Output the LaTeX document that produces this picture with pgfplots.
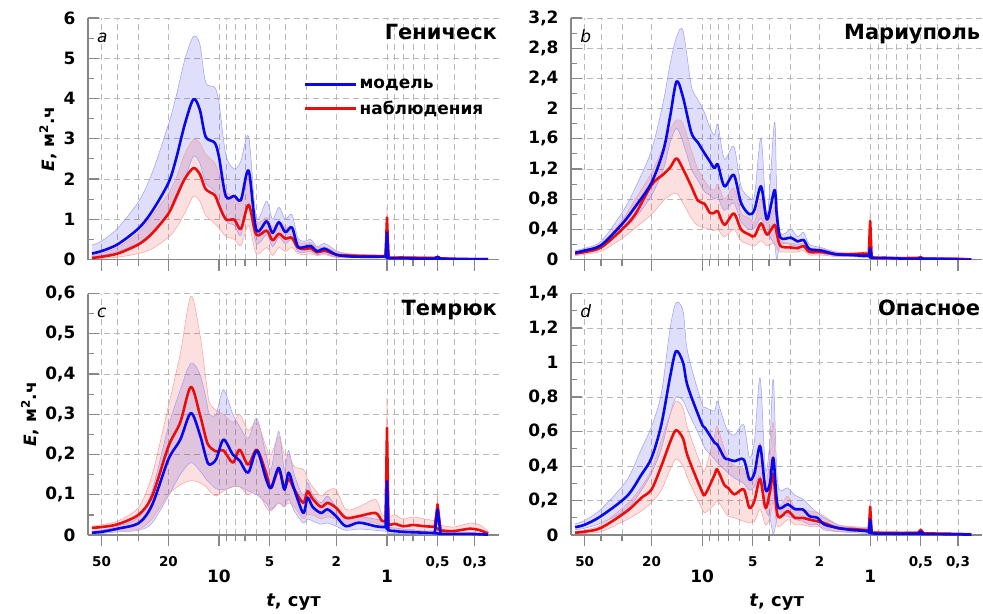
\documentclass[border=0pt]{standalone}
\usepackage{fontspec}
\setmainfont{DejaVu Sans}
\usepackage{pgfplots}
\pgfplotsset{compat=1.18}
\usepackage{pgfplotstable}
\usepgfplotslibrary{fillbetween}

\definecolor{mblue}{RGB}{8,8,235}
\definecolor{mred}{RGB}{235,12,12}
\definecolor{axgray}{RGB}{135,135,135}
\definecolor{gridgray}{RGB}{185,185,185}
\newcommand{\fs}[1]{\fontsize{#1pt}{#1pt}\selectfont}

% columns: t (days), model band low/mean/high, observation band low/mean/high
\pgfplotstableread{
t     bl   bm   bu   rl   rm   ru
57    0.08 0.15 0.36 0.02 0.04 0.10
50    0.10 0.21 0.46 0.03 0.07 0.15
40    0.20 0.38 0.78 0.06 0.15 0.30
30    0.42 0.78 1.45 0.15 0.38 0.68
25    0.68 1.20 2.15 0.27 0.65 1.08
20    1.15 1.90 3.35 0.55 1.14 1.65
18    1.45 2.50 4.05 0.78 1.55 2.02
16    2.00 3.35 4.95 1.15 2.00 2.62
14.2  2.56 3.98 5.54 1.57 2.27 2.98
13    2.40 3.72 5.35 1.45 2.12 2.90
12    1.90 3.05 4.40 1.10 1.75 2.62
10.6  1.70 2.90 4.28 0.90 1.60 2.40
10    1.45 2.55 3.90 0.78 1.35 2.15
9.1   0.95 1.57 2.60 0.58 1.00 1.70
8.1   0.85 1.58 2.25 0.50 0.99 1.55
7.4   0.60 1.48 2.45 0.35 0.76 1.40
6.66  1.35 2.21 3.05 0.85 1.36 2.05
6.0   0.40 0.74 1.05 0.15 0.62 0.95
5.2   0.62 0.95 1.45 0.30 0.72 1.05
4.8   0.32 0.66 1.00 0.10 0.48 0.80
4.4   0.55 0.93 1.30 0.30 0.64 0.95
4.03  0.40 0.68 1.00 0.20 0.52 0.80
3.68  0.50 0.80 1.12 0.30 0.54 0.80
3.4   0.20 0.33 0.55 0.15 0.30 0.45
3.1   0.18 0.31 0.45 0.12 0.26 0.40
2.85  0.20 0.34 0.50 0.14 0.28 0.42
2.6   0.12 0.21 0.32 0.10 0.18 0.30
2.35  0.15 0.27 0.40 0.12 0.22 0.32
2.0   0.06 0.12 0.22 0.05 0.12 0.20
1.7   0.04 0.08 0.13 0.05 0.10 0.15
1.4   0.04 0.07 0.11 0.05 0.09 0.13
1.15  0.04 0.07 0.10 0.04 0.08 0.12
1.02  0.04 0.07 0.10 0.04 0.08 0.11
0.98  0.01 0.03 0.05 0.02 0.05 0.08
0.8   0.01 0.03 0.05 0.02 0.05 0.08
0.6   0.01 0.02 0.04 0.02 0.04 0.07
0.52  0.01 0.02 0.04 0.02 0.04 0.06
0.48  0.00 0.02 0.03 0.01 0.03 0.05
0.4   0.00 0.01 0.02 0.01 0.02 0.03
0.3   0.00 0.01 0.02 0.00 0.01 0.02
0.25  0.00 0.01 0.01 0.00 0.01 0.01
}\tabA
\pgfplotstableread{
t     bm   rm   bu   ru
1.02  0.07 0.08 0.10 0.11
1.0   0.67 1.04 0.78 1.29
0.98  0.03 0.05 0.05 0.08
0.52  0.02 0.04 0.04 0.06
0.5   0.07 0.06 0.09 0.08
0.48  0.02 0.03 0.03 0.05
}\spkA

\pgfplotstableread{
t     bl   bm   bu   rl   rm   ru
57    0.07 0.09 0.12 0.05 0.08 0.10
50    0.09 0.12 0.15 0.07 0.10 0.13
40    0.15 0.19 0.24 0.11 0.16 0.20
30    0.38 0.47 0.62 0.28 0.40 0.52
25    0.55 0.70 0.95 0.42 0.60 0.80
20    0.85 1.02 1.45 0.60 0.99 1.15
17    1.20 1.45 2.10 0.78 1.13 1.50
15.5  1.55 1.90 2.60 0.85 1.22 1.72
14.2  1.74 2.36 2.95 0.88 1.34 1.85
13    1.55 2.15 3.03 0.75 1.20 1.80
11.6  1.20 1.68 2.30 0.55 0.97 1.45
10.6  1.05 1.55 2.12 0.45 0.78 1.20
9.7   0.90 1.41 1.95 0.42 0.74 1.05
9.0   0.85 1.30 1.75 0.40 0.62 0.95
8.45  0.80 1.21 1.65 0.38 0.62 0.92
8.07  0.82 1.26 1.79 0.40 0.64 1.00
7.37  0.65 0.97 1.33 0.30 0.46 0.80
6.48  0.75 1.12 1.50 0.40 0.61 0.95
5.87  0.50 0.75 0.97 0.25 0.40 0.62
5.23  0.40 0.60 0.82 0.20 0.33 0.55
4.88  0.42 0.66 0.85 0.18 0.31 0.50
4.46  0.55 0.97 1.61 0.25 0.48 0.80
4.11  0.35 0.53 0.58 0.18 0.33 0.48
3.71  0.20 0.92 1.82 0.22 0.46 0.70
3.6   0.00 0.60 0.90 0.15 0.35 0.50
3.42  0.20 0.29 0.35 0.10 0.18 0.25
2.96  0.20 0.29 0.40 0.10 0.16 0.22
2.7   0.17 0.24 0.30 0.10 0.15 0.20
2.49  0.18 0.26 0.36 0.12 0.18 0.22
2.3   0.10 0.14 0.20 0.06 0.10 0.15
1.96  0.08 0.12 0.16 0.06 0.10 0.14
1.6   0.05 0.07 0.10 0.04 0.07 0.10
1.3   0.04 0.06 0.08 0.04 0.07 0.10
1.1   0.03 0.05 0.07 0.05 0.08 0.10
1.02  0.03 0.05 0.07 0.04 0.07 0.10
0.98  0.00 0.02 0.03 0.01 0.03 0.05
0.8   0.00 0.02 0.03 0.01 0.02 0.04
0.6   0.00 0.01 0.02 0.01 0.02 0.03
0.52  0.00 0.01 0.02 0.01 0.02 0.03
0.48  0.00 0.01 0.02 0.00 0.01 0.02
0.4   0.00 0.01 0.01 0.00 0.01 0.02
0.3   0.00 0.00 0.01 0.00 0.01 0.01
0.25  0.00 0.00 0.01 0.00 0.00 0.01
}\tabB
\pgfplotstableread{
t     bm   rm   bu   ru
1.02  0.05 0.07 0.07 0.10
1.0   0.15 0.51 0.20 0.65
0.98  0.02 0.03 0.03 0.05
0.52  0.01 0.02 0.02 0.03
0.5   0.02 0.03 0.03 0.04
0.48  0.01 0.01 0.02 0.02
}\spkB

\pgfplotstableread{
t     bl    bm    bu    rl    rm    ru
57    0.003 0.006 0.010 0.008 0.018 0.022
50    0.004 0.008 0.012 0.010 0.020 0.026
40    0.008 0.016 0.022 0.012 0.027 0.035
30    0.012 0.030 0.045 0.015 0.051 0.070
25    0.030 0.075 0.110 0.040 0.097 0.150
20    0.097 0.188 0.270 0.100 0.220 0.320
17    0.150 0.237 0.360 0.125 0.280 0.450
14.7  0.180 0.303 0.427 0.135 0.368 0.593
13    0.160 0.250 0.400 0.130 0.300 0.500
11.9  0.138 0.190 0.336 0.120 0.237 0.380
11.4  0.130 0.175 0.300 0.110 0.220 0.330
10.4  0.115 0.188 0.300 0.097 0.208 0.310
9.4   0.113 0.237 0.361 0.110 0.210 0.300
8.27  0.120 0.200 0.300 0.120 0.180 0.280
7.54  0.120 0.185 0.270 0.120 0.212 0.300
6.7   0.110 0.155 0.240 0.100 0.175 0.260
5.95  0.100 0.210 0.290 0.110 0.212 0.280
5.25  0.080 0.140 0.200 0.070 0.155 0.220
4.9   0.064 0.117 0.163 0.060 0.117 0.200
4.41  0.080 0.167 0.258 0.080 0.163 0.245
4.08  0.070 0.113 0.163 0.070 0.117 0.200
3.85  0.090 0.155 0.210 0.080 0.140 0.200
3.56  0.060 0.113 0.150 0.070 0.113 0.170
3.15  0.030 0.055 0.097 0.040 0.080 0.163
2.97  0.040 0.093 0.130 0.050 0.109 0.140
2.77  0.035 0.070 0.100 0.050 0.090 0.120
2.47  0.027 0.055 0.080 0.040 0.070 0.097
2.26  0.030 0.064 0.097 0.045 0.080 0.110
2.01  0.022 0.047 0.070 0.040 0.068 0.113
1.76  0.012 0.022 0.040 0.025 0.043 0.064
1.47  0.015 0.031 0.045 0.030 0.047 0.070
1.17  0.012 0.022 0.040 0.030 0.055 0.088
1.07  0.010 0.020 0.035 0.020 0.035 0.050
1.02  0.010 0.020 0.035 0.020 0.035 0.050
0.98  0.004 0.012 0.020 0.010 0.025 0.045
0.9   0.004 0.010 0.018 0.012 0.028 0.050
0.8   0.003 0.008 0.015 0.010 0.022 0.040
0.7   0.003 0.007 0.013 0.012 0.025 0.045
0.6   0.002 0.006 0.010 0.010 0.022 0.040
0.52  0.002 0.005 0.010 0.010 0.020 0.035
0.48  0.001 0.003 0.006 0.005 0.012 0.025
0.4   0.001 0.003 0.005 0.004 0.010 0.020
0.32  0.001 0.003 0.005 0.006 0.016 0.030
0.28  0.001 0.002 0.004 0.005 0.012 0.025
0.25  0.000 0.001 0.002 0.002 0.004 0.010
}\tabC
\pgfplotstableread{
t     bm    rm    bu    ru
1.02  0.020 0.035 0.035 0.050
1.0   0.134 0.266 0.160 0.340
0.98  0.012 0.025 0.020 0.045
0.52  0.005 0.020 0.010 0.035
0.5   0.064 0.076 0.070 0.097
0.48  0.003 0.012 0.006 0.025
}\spkC

\pgfplotstableread{
t     bl    bm    bu    rl    rm    ru
57    0.030 0.046 0.065 0.006 0.014 0.022
50    0.040 0.060 0.085 0.010 0.020 0.030
40    0.070 0.110 0.150 0.020 0.042 0.060
28    0.150 0.226 0.320 0.090 0.139 0.180
23    0.260 0.350 0.500 0.140 0.216 0.280
20    0.360 0.448 0.630 0.190 0.265 0.380
17.5  0.500 0.640 0.820 0.260 0.400 0.550
15.5  0.700 0.920 1.200 0.380 0.540 0.700
14.3  0.800 1.066 1.346 0.440 0.608 0.776
13    0.780 1.000 1.300 0.400 0.560 0.740
12.2  0.720 0.863 1.060 0.330 0.458 0.620
10.1  0.550 0.650 0.770 0.160 0.260 0.400
9.6   0.500 0.620 0.740 0.130 0.236 0.380
8.43  0.440 0.535 0.720 0.180 0.350 0.580
8.13  0.420 0.525 0.776 0.200 0.380 0.630
7.37  0.380 0.448 0.650 0.140 0.290 0.500
7.0   0.360 0.440 0.600 0.110 0.274 0.450
6.42  0.330 0.429 0.580 0.100 0.236 0.400
5.66  0.300 0.438 0.640 0.080 0.265 0.380
5.23  0.260 0.322 0.450 0.070 0.158 0.300
4.88  0.280 0.360 0.550 0.080 0.200 0.380
4.52  0.340 0.516 0.911 0.150 0.326 0.535
4.2   0.149 0.265 0.380 0.060 0.158 0.300
3.95  0.100 0.300 0.550 0.100 0.250 0.450
3.77  0.004 0.448 0.902 0.190 0.351 0.650
3.55  0.100 0.168 0.300 0.050 0.110 0.187
3.1   0.110 0.178 0.274 0.090 0.139 0.226
2.8   0.090 0.150 0.230 0.060 0.100 0.160
2.52  0.080 0.149 0.210 0.060 0.100 0.150
2.3   0.060 0.110 0.170 0.050 0.090 0.140
2.06  0.060 0.100 0.130 0.050 0.080 0.130
1.88  0.030 0.062 0.100 0.040 0.070 0.110
1.56  0.020 0.042 0.060 0.020 0.040 0.060
1.3   0.015 0.030 0.045 0.020 0.035 0.050
1.1   0.010 0.025 0.040 0.020 0.030 0.045
1.02  0.010 0.020 0.035 0.015 0.025 0.040
0.98  0.003 0.010 0.020 0.005 0.015 0.025
0.7   0.003 0.008 0.015 0.005 0.012 0.020
0.52  0.003 0.008 0.012 0.005 0.012 0.020
0.48  0.002 0.006 0.010 0.004 0.010 0.016
0.35  0.002 0.005 0.008 0.003 0.008 0.012
0.25  0.001 0.003 0.005 0.002 0.005 0.008
}\tabD
\pgfplotstableread{
t     bm    rm    bu    ru
1.02  0.020 0.025 0.035 0.040
1.0   0.090 0.164 0.110 0.200
0.98  0.010 0.015 0.020 0.025
0.52  0.008 0.012 0.012 0.020
0.5   0.020 0.030 0.030 0.040
0.48  0.006 0.010 0.010 0.016
}\spkD

% x is log10 of the period t (days), reversed
\pgfplotsset{
  myax/.style={scale only axis, width=412pt, height=242pt,
    x dir=reverse, xmin=-0.6676, xmax=1.7803,
    axis x line*=bottom, axis y line*=left,
    tick align=inside, ytick pos=left,
    major tick length=11pt, minor tick length=6pt,
    xtick={1.69897,1.30103,1,0.69897,0.30103,0,-0.30103,-0.52288},
    minor xtick={1.60206,1.47712,0.95424,0.90309,0.84510,0.77815,0.60206,0.47712,
      -0.04576,-0.09691,-0.15490,-0.22185,-0.39794},
    xticklabels={},
    minor y tick num=1,
    xmajorgrids, xminorgrids, ymajorgrids,
    scaled y ticks=false,
    yticklabel style={font=\fs{17}\bfseries, xshift=-9pt},
    xticklabel style={font=\fs{13.5}\bfseries, yshift=-18pt},
    ylabel style={font=\fs{17}\bfseries},
    xlabel style={font=\fs{18}\bfseries, yshift=-4pt},
    grid style={gridgray, line width=0.7pt, dash pattern=on 6pt off 4pt},
    tick style={axgray, line width=1.1pt},
    axis line style={axgray, line width=1.3pt, -},
    every major x tick/.append style={yshift=-11pt},
    every minor x tick/.append style={yshift=-6pt}},
  myxlab/.style={xticklabels={50,20,{\raisebox{-26pt}{\fs{17}10}},5,2,
      {\raisebox{-26pt}{\fs{17}1}},{0,5},{0,3}},
    xlabel={\textit{t}, сут}},
  myband/.style={draw=#1!40, line width=0.5pt, forget plot},
  mymean/.style={#1, line width=2.6pt, line join=round, forget plot},
}

% one spike drawn around t=1 and one around t=0.5
\newcommand{\spike}[3]{%
  \addplot[#3, restrict x to domain=-0.05:0.05] table[x expr=log10(\thisrow{t}), y=#2]{#1};
  \addplot[#3, restrict x to domain=-0.34:-0.26] table[x expr=log10(\thisrow{t}), y=#2]{#1};
}
\newcommand{\drawpanel}[3]{%
  \addplot[myband=mblue, smooth, name path=#2bu] table[x expr=log10(\thisrow{t}), y=bu]{#1};
  \addplot[myband=mblue, smooth, name path=#2bl] table[x expr=log10(\thisrow{t}), y=bl]{#1};
  \addplot[fill=mblue, fill opacity=0.13, draw=none, forget plot] fill between[of=#2bu and #2bl];
  \addplot[myband=mred, smooth, name path=#2ru] table[x expr=log10(\thisrow{t}), y=ru]{#1};
  \addplot[myband=mred, smooth, name path=#2rl] table[x expr=log10(\thisrow{t}), y=rl]{#1};
  \addplot[fill=mred, fill opacity=0.13, draw=none, forget plot] fill between[of=#2ru and #2rl];
  \addplot[mymean=mred, smooth] table[x expr=log10(\thisrow{t}), y=rm]{#1};
  \addplot[mymean=mblue, smooth] table[x expr=log10(\thisrow{t}), y=bm]{#1};
  \spike{#3}{ru}{myband=mred}
  \spike{#3}{bu}{myband=mblue}
  \spike{#3}{rm}{mymean=mred}
  \spike{#3}{bm}{mymean=mblue}
}
\newcommand{\panelname}[2]{%
  \node[font=\fs{17}\itshape, anchor=base west, inner sep=0pt] at (rel axis cs:0.022,0.9) {#1};
  \node[font=\fs{21}\bfseries, anchor=base east, inner sep=0pt] at (rel axis cs:0.995,0.909) {#2};
}

\begin{document}
\begin{tikzpicture}
\path (0,0) rectangle (983pt,615pt);

% a
\begin{axis}[myax, ymin=0, ymax=6, ytick={0,1,2,3,4,5,6},
  ylabel={\textit{E}, м\textsuperscript{2}.ч},
  legend style={draw=none, fill=none, at={(0.518,0.671)}, anchor=west,
    font=\fs{17}\bfseries, row sep=7pt},
  legend cell align=left,
  legend image code/.code={\draw[#1] (0pt,0pt) -- (51pt,0pt);},
  /pgf/number format/use comma, /pgf/number format/1000 sep={},
  /pgf/number format/assume math mode=true,
  at={(88pt,355pt)}, anchor=south west]
\drawpanel{\tabA}{a}{\spkA}
\addlegendimage{mblue, line width=2.6pt}
\addlegendentry{модель}
\addlegendimage{mred, line width=2.6pt}
\addlegendentry{наблюдения}
\panelname{a}{Геническ}
\end{axis}

% b
\begin{axis}[myax, ymin=0, ymax=3.2,
  ytick={0,0.4,0.8,1.2,1.6,2,2.4,2.8,3.2},
  /pgf/number format/use comma, /pgf/number format/1000 sep={},
  /pgf/number format/assume math mode=true,
  at={(572pt,355pt)}, anchor=south west]
\drawpanel{\tabB}{b}{\spkB}
\panelname{b}{Мариуполь}
\end{axis}

% c
\begin{axis}[myax, myxlab, ymin=0, ymax=0.6,
  ytick={0,0.1,0.2,0.3,0.4,0.5,0.6},
  ylabel={\textit{E}, м\textsuperscript{2}.ч},
  /pgf/number format/use comma, /pgf/number format/1000 sep={},
  /pgf/number format/assume math mode=true,
  at={(88pt,79pt)}, anchor=south west]
\drawpanel{\tabC}{c}{\spkC}
\panelname{c}{Темрюк}
\end{axis}

% d
\begin{axis}[myax, myxlab, ymin=0, ymax=1.4,
  ytick={0,0.2,0.4,0.6,0.8,1,1.2,1.4},
  /pgf/number format/use comma, /pgf/number format/1000 sep={},
  /pgf/number format/assume math mode=true,
  at={(572pt,79pt)}, anchor=south west]
\drawpanel{\tabD}{d}{\spkD}
\panelname{d}{Опасное}
\end{axis}
\end{tikzpicture}
\end{document}
